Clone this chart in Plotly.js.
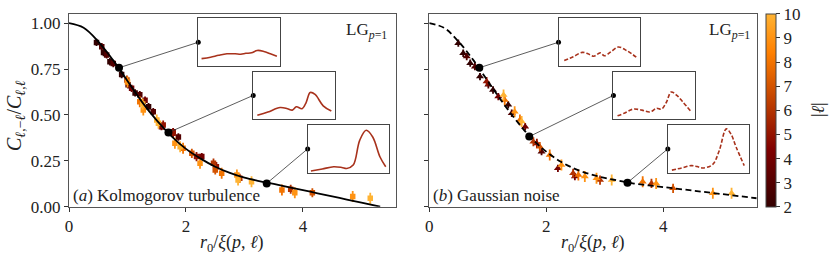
<!DOCTYPE html>
<html><head><meta charset="utf-8">
<script src="https://cdn.plot.ly/plotly-3.0.1.min.js"></script>
<style>html,body{margin:0;padding:0;background:#fff}#c{width:831px;height:261px}</style>
</head><body><div id="c"></div>
<script>
// ---------- data ----------
const kolX = [0.47,0.59,0.70,0.90,1.13,1.36, 0.56,0.644,0.757,1.01,1.21,1.44,1.87, 1.07,1.30,1.58,1.78,2.27, 1.61,1.78,2.18,2.52, 0.99,2.47,2.92,3.79, 2.10,2.50,4.16, 1.21,1.95,2.61,3.64, 1.00,1.27,1.81,2.24,2.87,3.86,4.85, 1.26,1.50,1.53,1.90,2.89,3.12,5.15];
const kolY = [0.895,0.84,0.79,0.72,0.62,0.545, 0.872,0.827,0.78,0.664,0.61,0.518,0.38, 0.645,0.58,0.436,0.409,0.273, 0.445,0.40,0.273,0.218, 0.69,0.237,0.155,0.095, 0.291,0.20,0.076, 0.572,0.318,0.182,0.091, 0.68,0.527,0.346,0.237,0.173,0.076,0.055, 0.56,0.473,0.455,0.327,0.145,0.136,0.046];
const kolL = [2,2,2,2,2,2, 3,3,3,3,3,3,3, 4,4,4,4,4, 5,5,5,5, 6,6,6,6, 7,7,7, 8,8,8,8, 9,9,9,9,9,9,9, 10,10,10,10,10,10,10];
const kolErr = [0.02,0.02,0.02,0.02,0.02,0.02, 0.02,0.02,0.02,0.02,0.02,0.02,0.02, 0.02,0.02,0.02,0.02,0.02, 0.025,0.025,0.025,0.025, 0.025,0.025,0.025,0.025, 0.025,0.025,0.025, 0.03,0.03,0.03,0.03, 0.03,0.03,0.03,0.03,0.03,0.03,0.03, 0.03,0.03,0.03,0.03,0.03,0.03,0.03];

const gaussX = [0.496,0.58,0.70,0.867,1.09,1.35, 0.64,0.78,1.01,1.41,1.92, 1.18,1.64,2.20,2.49, 0.98,1.84, 1.78,2.46,2.92,3.80, 1.89,4.17, 1.29,1.55,2.06,2.55,3.65, 1.46,2.26,2.66,2.86,3.88,4.85, 1.27,1.58,3.12,5.17];
const gaussY = [0.891,0.836,0.782,0.709,0.636,0.555, 0.818,0.763,0.664,0.509,0.30, 0.60,0.436,0.209,0.164, 0.682,0.345, 0.354,0.182,0.145,0.127, 0.327,0.10, 0.582,0.473,0.282,0.173,0.136, 0.518,0.227,0.164,0.155,0.127,0.073, 0.609,0.464,0.145,0.073];
const gaussL = [2,2,2,2,2,2, 3,3,3,3,3, 4,4,4,4, 5,5, 6,6,6,6, 7,7, 8,8,8,8,8, 9,9,9,9,9,9, 10,10,10,10];
const gaussErr = [0.02,0.02,0.02,0.02,0.02,0.02, 0.02,0.02,0.02,0.02,0.02, 0.02,0.02,0.02,0.02, 0.025,0.025, 0.025,0.025,0.025,0.025, 0.025,0.025, 0.03,0.03,0.03,0.03,0.03, 0.03,0.03,0.03,0.03,0.03,0.03, 0.03,0.03,0.03,0.03];

const kolFitX = [0,0.25,0.5,0.75,1.0,1.25,1.5,1.75,2.0,2.25,2.5,2.75,3.0,3.25,3.5,3.75,4.0,4.25,4.5,4.75,5.0,5.32];
const kolFitY = [1.0,0.975,0.90,0.80,0.685,0.57,0.47,0.385,0.315,0.262,0.218,0.184,0.158,0.14,0.124,0.107,0.090,0.073,0.056,0.039,0.022,0.0];
const gaussFitX = [0,0.25,0.5,0.75,1.0,1.25,1.5,1.75,2.0,2.25,2.5,2.75,3.0,3.25,3.5,3.75,4.0,4.5,5.0,5.6];
const gaussFitY = [1.0,0.975,0.90,0.80,0.685,0.57,0.465,0.372,0.30,0.245,0.205,0.177,0.157,0.141,0.126,0.116,0.107,0.088,0.069,0.046];

const kolHlX = [0.855,1.70,3.38], kolHlY = [0.757,0.404,0.127];
const gaussHlX = [0.855,1.71,3.39], gaussHlY = [0.757,0.382,0.131];

// inset boxes in main-axis data units
const insetX0 = [2.21,3.15,4.08], insetX1 = [3.61,4.54,5.47];
const insetY0 = [0.765,0.477,0.185], insetY1 = [1.027,0.736,0.445];

// inset curves (normalised 0..1 inside box)
const kolIn1X = [0.04,0.15,0.25,0.35,0.45,0.52,0.58,0.65,0.72,0.80,0.88,0.96];
const kolIn1Y = [0.16,0.19,0.23,0.26,0.26,0.25,0.27,0.28,0.33,0.31,0.26,0.21];
const kolIn2X = [0.05,0.18,0.33,0.42,0.48,0.53,0.60,0.65,0.70,0.76,0.86,0.96];
const kolIn2Y = [0.08,0.15,0.245,0.22,0.19,0.26,0.22,0.35,0.56,0.52,0.28,0.17];
const kolIn3X = [0.04,0.18,0.32,0.42,0.48,0.56,0.64,0.72,0.80,0.89,0.96];
const kolIn3Y = [0.035,0.08,0.125,0.11,0.09,0.16,0.68,0.89,0.75,0.33,0.125];
const gaussIn1X = [0.07,0.18,0.29,0.36,0.43,0.51,0.56,0.64,0.73,0.84,0.95];
const gaussIn1Y = [0.12,0.20,0.29,0.26,0.21,0.28,0.22,0.30,0.40,0.32,0.19];
const gaussIn2X = [0.05,0.14,0.24,0.35,0.45,0.53,0.59,0.65,0.71,0.78,0.85,0.95];
const gaussIn2Y = [0.07,0.13,0.21,0.19,0.15,0.23,0.21,0.35,0.57,0.50,0.37,0.17];
const gaussIn3X = [0.05,0.17,0.29,0.36,0.43,0.55,0.63,0.72,0.78,0.84,0.94];
const gaussIn3Y = [0.055,0.10,0.15,0.13,0.10,0.17,0.45,0.92,0.80,0.54,0.15];

const lTicks = [2,3,4,5,6,7,8,9,10];

// ---------- styling helpers ----------
const W = 831, H = 261;
const FONT = '"Liberation Serif", "DejaVu Serif", serif';
const cscale = [[0,'#330000'],[0.3,'#800000'],[0.8,'#ff8000'],[1,'#ffb333']];
function hex2rgb(h){return [parseInt(h.substr(1,2),16),parseInt(h.substr(3,2),16),parseInt(h.substr(5,2),16)];}
function colorFor(l){
  const f=(l-2)/8;
  for(let i=0;i<cscale.length-1;i++){
    const a=cscale[i],b=cscale[i+1];
    if(f>=a[0]&&f<=b[0]){
      const t=(f-a[0])/(b[0]-a[0]); const ca=hex2rgb(a[1]),cb=hex2rgb(b[1]);
      return 'rgb('+ca.map((v,k)=>Math.round(v+(cb[k]-v)*t)).join(',')+')';
    }
  }
  return cscale[cscale.length-1][1];
}
const domL = [69/W, 396/W], domR = [429.3/W, 756.7/W];
const domY = [1-206.7/H, 1-14/H];
const xrL = [0,5.59], xrR = [0,5.6], yr = [0,1.05];
function mapD(v, r, d){ return d[0] + (v-r[0])/(r[1]-r[0])*(d[1]-d[0]); }

const traces = [];
function addPoints(X,Y,L,E,xa,ya,symbol,size,withScale){
  let first = true;
  lTicks.forEach(l=>{
    const idx=[]; L.forEach((v,i)=>{ if(v===l) idx.push(i); });
    if(!idx.length) return;
    const t = {
      type:'scatter', mode:'markers', xaxis:xa, yaxis:ya,
      x: idx.map(i=>X[i]), y: idx.map(i=>Y[i]),
      error_y:{type:'data', array: idx.map(i=>E[i]), color: colorFor(l), thickness:1.8, width:0},
      marker:{symbol:symbol, size:size, color: idx.map(i=>L[i]), colorscale:cscale, cmin:2, cmax:10, line:{width:0}},
      hoverinfo:'skip'
    };
    if(withScale && first){
      t.marker.showscale = true;
      t.marker.colorbar = {
        x: 766/W, xanchor:'left', xpad:0, ypad:0,
        y: 1-(14+206.7)/2/H, yanchor:'middle',
        len: (206.7-14)/H, lenmode:'fraction',
        thickness:10, thicknessmode:'pixels',
        outlinewidth:1, outlinecolor:'#444', borderwidth:0,
        tickvals: lTicks, ticks:'outside', ticklen:4, tickcolor:'#333',
        tickfont:{family:FONT, size:17, color:'#222'}
      };
    }
    first = false;
    traces.push(t);
  });
}
addPoints(kolX,kolY,kolL,kolErr,'x','y','square',5.5,true);
addPoints(gaussX,gaussY,gaussL,gaussErr,'x2','y2','triangle-up',7,false);

traces.push({type:'scatter',mode:'lines',x:kolFitX,y:kolFitY,xaxis:'x',yaxis:'y',line:{color:'#000',width:1.8,shape:'spline'},hoverinfo:'skip'});
traces.push({type:'scatter',mode:'lines',x:gaussFitX,y:gaussFitY,xaxis:'x2',yaxis:'y2',line:{color:'#000',width:1.8,dash:'6px,3.5px',shape:'spline'},hoverinfo:'skip'});

function addConnectors(HX,HY,xa,ya){
  for(let i=0;i<3;i++){
    const ex = insetX0[i], ey = (insetY0[i]+insetY1[i])/2;
    traces.push({type:'scatter',mode:'lines',x:[HX[i],ex],y:[HY[i],ey],xaxis:xa,yaxis:ya,line:{color:'#333',width:0.8},hoverinfo:'skip'});
    traces.push({type:'scatter',mode:'markers',x:[ex],y:[ey],xaxis:xa,yaxis:ya,marker:{color:'#000',size:5},hoverinfo:'skip',cliponaxis:false});
  }
  traces.push({type:'scatter',mode:'markers',x:HX,y:HY,xaxis:xa,yaxis:ya,marker:{color:'#000',size:8},hoverinfo:'skip'});
}
addConnectors(kolHlX,kolHlY,'x','y');
addConnectors(gaussHlX,gaussHlY,'x2','y2');

const insetCurves = [
  [kolIn1X,kolIn1Y,false],[kolIn2X,kolIn2Y,false],[kolIn3X,kolIn3Y,false],
  [gaussIn1X,gaussIn1Y,true],[gaussIn2X,gaussIn2Y,true],[gaussIn3X,gaussIn3Y,true]
];

const axFont = {family:FONT, size:17, color:'#222'};
const layout = {
  width:W, height:H, margin:{l:0,r:0,t:0,b:0},
  paper_bgcolor:'#fff', plot_bgcolor:'rgba(0,0,0,0)', showlegend:false,
  font:{family:FONT, size:17, color:'#222'},
  xaxis:{domain:domL, range:xrL, anchor:'y', tickvals:[0,2,4], ticks:'outside', ticklen:4, tickcolor:'#333',
         showline:true, mirror:true, linecolor:'#555', linewidth:1, showgrid:false, zeroline:false, tickfont:axFont, automargin:false},
  yaxis:{domain:domY, range:yr, anchor:'x', tickvals:[0,0.25,0.5,0.75,1.0], tickformat:'.2f', ticks:'outside', ticklen:4, tickcolor:'#333',
         showline:true, mirror:true, linecolor:'#555', linewidth:1, showgrid:false, zeroline:false, tickfont:axFont, automargin:false},
  xaxis2:{domain:domR, range:xrR, anchor:'y2', tickvals:[0,2,4], ticks:'outside', ticklen:4, tickcolor:'#333',
         showline:true, mirror:true, linecolor:'#555', linewidth:1, showgrid:false, zeroline:false, tickfont:axFont, automargin:false},
  yaxis2:{domain:domY, range:yr, anchor:'x2', tickvals:[0,0.25,0.5,0.75,1.0], showticklabels:false, ticks:'outside', ticklen:4, tickcolor:'#333',
         showline:true, mirror:true, linecolor:'#555', linewidth:1, showgrid:false, zeroline:false, automargin:false},
  annotations:[
    {xref:'paper',yref:'paper',x:389/W,y:1-31/H,xanchor:'right',yanchor:'middle',showarrow:false,text:'LG<sub><i>p</i>=1</sub>',font:{family:FONT,size:17,color:'#222'}},
    {xref:'paper',yref:'paper',x:752/W,y:1-31/H,xanchor:'right',yanchor:'middle',showarrow:false,text:'LG<sub><i>p</i>=1</sub>',font:{family:FONT,size:17,color:'#222'}},
    {xref:'paper',yref:'paper',x:71/W,y:1-195/H,xanchor:'left',yanchor:'middle',showarrow:false,text:'(<i>a</i>) Kolmogorov turbulence',font:{family:FONT,size:17,color:'#222'}},
    {xref:'paper',yref:'paper',x:431/W,y:1-195/H,xanchor:'left',yanchor:'middle',showarrow:false,text:'(<i>b</i>) Gaussian noise',font:{family:FONT,size:17,color:'#222'}},
    {xref:'paper',yref:'paper',x:232.5/W,y:1-243/H,xanchor:'center',yanchor:'middle',showarrow:false,text:'<i>r</i><sub>0</sub>/<i>ξ</i>(<i>p</i>, <i>ℓ</i>)',font:{family:FONT,size:18,color:'#222'}},
    {xref:'paper',yref:'paper',x:593/W,y:1-243/H,xanchor:'center',yanchor:'middle',showarrow:false,text:'<i>r</i><sub>0</sub>/<i>ξ</i>(<i>p</i>, <i>ℓ</i>)',font:{family:FONT,size:18,color:'#222'}},
    {xref:'paper',yref:'paper',x:15/W,y:1-116/H,xanchor:'center',yanchor:'middle',textangle:-90,showarrow:false,text:'<i>C</i><sub><i>ℓ</i>,−<i>ℓ</i></sub>/<i>C</i><sub><i>ℓ</i>,<i>ℓ</i></sub>',font:{family:FONT,size:20,color:'#222'}},
    {xref:'paper',yref:'paper',x:818/W,y:1-110/H,xanchor:'center',yanchor:'middle',textangle:-90,showarrow:false,text:'|<i>ℓ</i>|',font:{family:FONT,size:18,color:'#222'}}
  ]
};

insetCurves.forEach((c,k)=>{
  const n = k+3, i = k%3, right = k>=3;
  const dX = right?domR:domL, xr = right?xrR:xrL;
  layout['xaxis'+n] = {domain:[mapD(insetX0[i],xr,dX), mapD(insetX1[i],xr,dX)], range:[0,1], anchor:'y'+n,
    showline:true, mirror:true, linecolor:'#444', linewidth:1, showgrid:false, zeroline:false, showticklabels:false, ticks:''};
  layout['yaxis'+n] = {domain:[mapD(insetY0[i],yr,domY), mapD(insetY1[i],yr,domY)], range:[0,1], anchor:'x'+n,
    showline:true, mirror:true, linecolor:'#444', linewidth:1, showgrid:false, zeroline:false, showticklabels:false, ticks:''};
  traces.push({type:'scatter',mode:'lines',x:c[0],y:c[1],xaxis:'x'+n,yaxis:'y'+n,
    line:{color:'#a8321c',width:1.6,shape:'spline',dash:c[2]?'4px,2px':'solid'},hoverinfo:'skip'});
});

Plotly.newPlot('c', traces, layout, {staticPlot:true, displayModeBar:false});
</script>
</body></html>
